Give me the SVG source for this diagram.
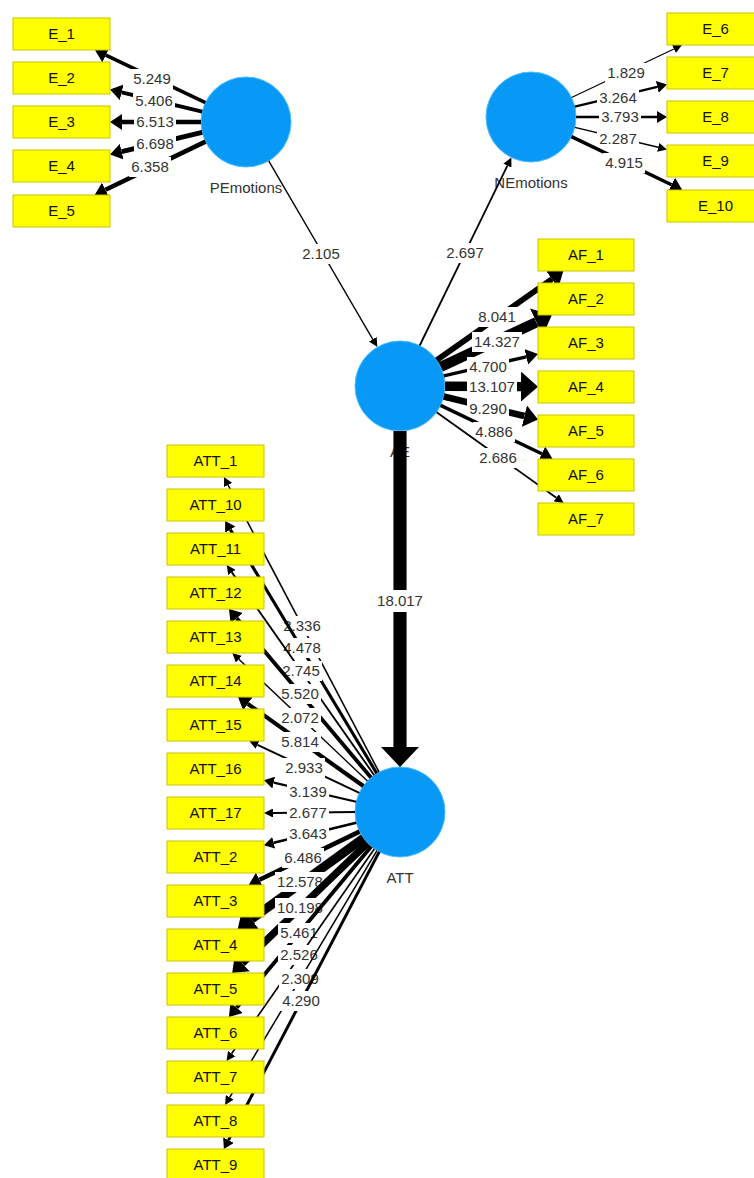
<svg xmlns="http://www.w3.org/2000/svg" width="754" height="1178" viewBox="0 0 754 1178">
  <defs>
    <style>
      text{font-family:"Liberation Sans",Arial,Helvetica,sans-serif;font-size:15px;text-anchor:middle}
      .lv circle{fill:#0898f6;stroke:#4abdff;stroke-width:1}
      .lv text{fill:#333}
      .ind rect{fill:#ffff00;stroke:#c9c400;stroke-width:1}
      .ind text{fill:#111}
      .e{stroke:#000;fill:none}
      .lb{fill:#fff}
      .lt{fill:#333}
      .a1{marker-end:url(#a1)}
      .a2{marker-end:url(#a2)}
      .a3{marker-end:url(#a3)}
      .a4{marker-end:url(#a4)}
      .a5{marker-end:url(#a5)}
      .a6{marker-end:url(#a6)}
    </style>
    <!-- arrowheads, sized by path-weight class; refX at the base so the line ends where the head starts -->
    <marker id="a1" markerUnits="userSpaceOnUse" markerWidth="9" markerHeight="9" viewBox="0 0 9 9" refX="0" refY="4.5" orient="auto"><path d="M0,0L9,4.5L0,9Z"/></marker>
    <marker id="a2" markerUnits="userSpaceOnUse" markerWidth="10" markerHeight="12" viewBox="0 0 10 12" refX="0" refY="6" orient="auto"><path d="M0,0L10,6L0,12Z"/></marker>
    <marker id="a3" markerUnits="userSpaceOnUse" markerWidth="12" markerHeight="16" viewBox="0 0 12 16" refX="0" refY="8" orient="auto"><path d="M0,0L12,8L0,16Z"/></marker>
    <marker id="a4" markerUnits="userSpaceOnUse" markerWidth="14" markerHeight="22" viewBox="0 0 14 22" refX="0" refY="11" orient="auto"><path d="M0,0L14,11L0,22Z"/></marker>
    <marker id="a5" markerUnits="userSpaceOnUse" markerWidth="17" markerHeight="30" viewBox="0 0 17 30" refX="0" refY="15" orient="auto"><path d="M0,0L17,15L0,30Z"/></marker>
    <marker id="a6" markerUnits="userSpaceOnUse" markerWidth="20" markerHeight="38" viewBox="0 0 20 38" refX="0" refY="19" orient="auto"><path d="M0,0L20,19L0,38Z"/></marker>
  </defs>

  <rect width="754" height="1178" fill="#fff"/>

  <!-- latent variables -->
  <g id="PEmotions" class="lv"><circle cx="246" cy="122" r="45"/><text x="246" y="193">PEmotions</text></g>
  <g id="NEmotions" class="lv"><circle cx="531" cy="117" r="45"/><text x="531" y="188">NEmotions</text></g>
  <g id="AE" class="lv"><circle cx="400" cy="386" r="45"/><text x="400" y="457">AE</text></g>
  <g id="ATT" class="lv"><circle cx="400" cy="812" r="45"/><text x="400" y="883">ATT</text></g>

  <!-- paths with t-values -->
  <g id="connectors">
    <g id="c-PE-E1"><line class="e a3" x1="205.4" y1="102.6" x2="105.8" y2="55.2" stroke-width="3.68"/><rect class="lb" x="131" y="69" width="42" height="20"/><text class="lt" x="152" y="84">5.249</text></g>
    <g id="c-PE-E2"><line class="e a3" x1="202.2" y1="111.6" x2="121.7" y2="92.4" stroke-width="3.8"/><rect class="lb" x="133" y="91" width="42" height="20"/><text class="lt" x="154" y="106">5.406</text></g>
    <g id="c-PE-E3"><line class="e a3" x1="201" y1="122" x2="122" y2="122" stroke-width="4.62"/><rect class="lb" x="134" y="112" width="42" height="20"/><text class="lt" x="155" y="127">6.513</text></g>
    <g id="c-PE-E4"><line class="e a3" x1="202.2" y1="132.4" x2="121.7" y2="151.6" stroke-width="4.76"/><rect class="lb" x="134" y="134" width="42" height="20"/><text class="lt" x="155" y="149">6.698</text></g>
    <g id="c-PE-E5"><line class="e a3" x1="205.5" y1="141.6" x2="105.5" y2="189.8" stroke-width="4.5"/><rect class="lb" x="129" y="157" width="42" height="20"/><text class="lt" x="150" y="172">6.358</text></g>

    <g id="c-NE-E6"><line class="e a1" x1="571.6" y1="97.6" x2="673.9" y2="48.9" stroke-width="1.15"/><rect class="lb" x="605" y="63" width="42" height="20"/><text class="lt" x="626" y="78">1.829</text></g>
    <g id="c-NE-E7"><line class="e a2" x1="574.8" y1="106.6" x2="657.3" y2="86.9" stroke-width="2.22"/><rect class="lb" x="597" y="88" width="42" height="20"/><text class="lt" x="618" y="103">3.264</text></g>
    <g id="c-NE-E8"><line class="e a2" x1="576" y1="117" x2="657" y2="117" stroke-width="2.61"/><rect class="lb" x="599" y="107" width="42" height="20"/><text class="lt" x="620" y="122">3.793</text></g>
    <g id="c-NE-E9"><line class="e a1" x1="574.8" y1="127.4" x2="658.2" y2="147.3" stroke-width="1.49"/><rect class="lb" x="597" y="129" width="42" height="20"/><text class="lt" x="618" y="144">2.287</text></g>
    <g id="c-NE-E10"><line class="e a3" x1="571.5" y1="136.6" x2="671.5" y2="184.8" stroke-width="3.44"/><rect class="lb" x="603" y="153" width="42" height="20"/><text class="lt" x="624" y="168">4.915</text></g>

    <g id="c-PE-AE"><line class="e a1" x1="268.7" y1="160.9" x2="372.8" y2="339.3" stroke-width="1.36"/><rect class="lb" x="300" y="244" width="42" height="20"/><text class="lt" x="321" y="259">2.105</text></g>
    <g id="c-AE-NE"><line class="e a1" x1="419.7" y1="345.5" x2="507.4" y2="165.6" stroke-width="1.8"/><rect class="lb" x="444" y="243" width="42" height="20"/><text class="lt" x="465" y="258">2.697</text></g>

    <g id="c-AE-AF1"><line class="e a4" x1="436.8" y1="360.1" x2="551.9" y2="279.1" stroke-width="5.75"/><rect class="lb" x="476" y="307" width="42" height="20"/><text class="lt" x="497" y="322">8.041</text></g>
    <g id="c-AE-AF2"><line class="e a5" x1="440.8" y1="366.9" x2="536.4" y2="322.2" stroke-width="10.4"/><rect class="lb" x="472" y="332" width="50" height="20"/><text class="lt" x="497" y="347">14.327</text></g>
    <g id="c-AE-AF3"><line class="e a3" x1="443.8" y1="375.9" x2="526.3" y2="356.8" stroke-width="3.28"/><rect class="lb" x="467" y="357" width="42" height="20"/><text class="lt" x="488" y="372">4.700</text></g>
    <g id="c-AE-AF4"><line class="e a5" x1="445" y1="386.2" x2="521" y2="386.6" stroke-width="9.5"/><rect class="lb" x="467" y="377" width="50" height="20"/><text class="lt" x="492" y="392">13.107</text></g>
    <g id="c-AE-AF5"><line class="e a4" x1="443.7" y1="396.6" x2="524.4" y2="416.1" stroke-width="6.67"/><rect class="lb" x="467" y="399" width="42" height="20"/><text class="lt" x="488" y="414">9.290</text></g>
    <g id="c-AE-AF6"><line class="e a3" x1="440.6" y1="405.4" x2="541.8" y2="453.8" stroke-width="3.42"/><rect class="lb" x="473" y="422" width="42" height="20"/><text class="lt" x="494" y="437">4.886</text></g>
    <g id="c-AE-AF7"><line class="e a1" x1="436.6" y1="412.2" x2="556.3" y2="497.8" stroke-width="1.79"/><rect class="lb" x="477" y="448" width="42" height="20"/><text class="lt" x="498" y="463">2.686</text></g>

    <g id="c-AE-ATT"><line class="e a6" x1="400" y1="431" x2="400" y2="747" stroke-width="13.13"/><rect class="lb" x="375" y="590" width="50" height="22"/><text class="lt" x="400" y="606">18.017</text></g>

    <g id="c-ATT-1"><line class="e a1" x1="379.1" y1="772.2" x2="228.1" y2="485" stroke-width="1.53"/><rect class="lb" x="281" y="616" width="42" height="20"/><text class="lt" x="302" y="631">2.336</text></g>
    <g id="c-ATT-10"><line class="e a2" x1="376.8" y1="773.4" x2="230.3" y2="529.6" stroke-width="3.11"/><rect class="lb" x="281" y="638" width="42" height="20"/><text class="lt" x="302" y="653">4.478</text></g>
    <g id="c-ATT-11"><line class="e a1" x1="374.2" y1="775.2" x2="231.9" y2="572.4" stroke-width="1.83"/><rect class="lb" x="280" y="661" width="42" height="20"/><text class="lt" x="301" y="676">2.745</text></g>
    <g id="c-ATT-12"><line class="e a3" x1="371" y1="777.6" x2="236.7" y2="618.2" stroke-width="3.88"/><rect class="lb" x="279" y="684" width="42" height="20"/><text class="lt" x="300" y="699">5.520</text></g>
    <g id="c-ATT-13"><line class="e a1" x1="367.4" y1="781" x2="238.9" y2="659.2" stroke-width="1.33"/><rect class="lb" x="279" y="708" width="42" height="20"/><text class="lt" x="300" y="723">2.072</text></g>
    <g id="c-ATT-14"><line class="e a3" x1="363.3" y1="786" x2="247.8" y2="703.9" stroke-width="4.1"/><rect class="lb" x="279" y="732" width="42" height="20"/><text class="lt" x="300" y="747">5.814</text></g>
    <g id="c-ATT-15"><line class="e a1" x1="359.3" y1="792.8" x2="257.5" y2="744.8" stroke-width="1.97"/><rect class="lb" x="283" y="758" width="42" height="20"/><text class="lt" x="304" y="773">2.933</text></g>
    <g id="c-ATT-16"><line class="e a2" x1="356.2" y1="801.8" x2="273.7" y2="782.6" stroke-width="2.12"/><rect class="lb" x="287" y="782" width="42" height="20"/><text class="lt" x="308" y="797">3.139</text></g>
    <g id="c-ATT-17"><line class="e a1" x1="355" y1="812" x2="273" y2="813" stroke-width="1.78"/><rect class="lb" x="287" y="803" width="42" height="20"/><text class="lt" x="308" y="818">2.677</text></g>
    <g id="c-ATT-2"><line class="e a2" x1="356.3" y1="822.7" x2="273.7" y2="842.8" stroke-width="2.5"/><rect class="lb" x="287" y="824" width="42" height="20"/><text class="lt" x="308" y="839">3.643</text></g>
    <g id="c-ATT-3"><line class="e a3" x1="359.5" y1="831.6" x2="259.5" y2="879.8" stroke-width="4.6"/><rect class="lb" x="282" y="848" width="42" height="20"/><text class="lt" x="303" y="863">6.486</text></g>
    <g id="c-ATT-4"><line class="e a5" x1="363.5" y1="838.3" x2="251.5" y2="919.1" stroke-width="9.11"/><rect class="lb" x="275" y="872" width="50" height="20"/><text class="lt" x="300" y="887">12.578</text></g>
    <g id="c-ATT-5"><line class="e a4" x1="367.5" y1="843.1" x2="242.3" y2="963.3" stroke-width="7.35"/><rect class="lb" x="275" y="898" width="50" height="20"/><text class="lt" x="300" y="913">10.198</text></g>
    <g id="c-ATT-6"><line class="e a3" x1="371.2" y1="846.5" x2="236.6" y2="1007.8" stroke-width="3.84"/><rect class="lb" x="278" y="923" width="42" height="20"/><text class="lt" x="299" y="938">5.461</text></g>
    <g id="c-ATT-7"><line class="e a1" x1="374.3" y1="848.9" x2="231.7" y2="1053.6" stroke-width="1.67"/><rect class="lb" x="278" y="945" width="42" height="20"/><text class="lt" x="299" y="960">2.526</text></g>
    <g id="c-ATT-8"><line class="e a1" x1="376.9" y1="850.6" x2="229.7" y2="1097.3" stroke-width="1.51"/><rect class="lb" x="279" y="969" width="42" height="20"/><text class="lt" x="300" y="984">2.309</text></g>
    <g id="c-ATT-9"><line class="e a2" x1="379.2" y1="851.9" x2="228.5" y2="1140.1" stroke-width="2.97"/><rect class="lb" x="280" y="991" width="42" height="20"/><text class="lt" x="301" y="1006">4.290</text></g>
  </g>

  <!-- indicators -->
  <g id="E_1" class="ind"><rect x="13" y="18" width="97" height="32"/><text x="61.5" y="39">E_1</text></g>
  <g id="E_2" class="ind"><rect x="13" y="62" width="97" height="32"/><text x="61.5" y="83">E_2</text></g>
  <g id="E_3" class="ind"><rect x="13" y="106" width="97" height="32"/><text x="61.5" y="127">E_3</text></g>
  <g id="E_4" class="ind"><rect x="13" y="150" width="97" height="32"/><text x="61.5" y="171">E_4</text></g>
  <g id="E_5" class="ind"><rect x="13" y="195" width="97" height="32"/><text x="61.5" y="216">E_5</text></g>

  <g id="E_6" class="ind"><rect x="667" y="13" width="97" height="32"/><text x="715.5" y="34">E_6</text></g>
  <g id="E_7" class="ind"><rect x="667" y="57" width="97" height="32"/><text x="715.5" y="78">E_7</text></g>
  <g id="E_8" class="ind"><rect x="667" y="101" width="97" height="32"/><text x="715.5" y="122">E_8</text></g>
  <g id="E_9" class="ind"><rect x="667" y="145" width="97" height="32"/><text x="715.5" y="166">E_9</text></g>
  <g id="E_10" class="ind"><rect x="667" y="190" width="97" height="32"/><text x="715.5" y="211">E_10</text></g>

  <g id="AF_1" class="ind"><rect x="538" y="239" width="96" height="32"/><text x="586" y="260">AF_1</text></g>
  <g id="AF_2" class="ind"><rect x="538" y="283" width="96" height="32"/><text x="586" y="304">AF_2</text></g>
  <g id="AF_3" class="ind"><rect x="538" y="327" width="96" height="32"/><text x="586" y="348">AF_3</text></g>
  <g id="AF_4" class="ind"><rect x="538" y="371" width="96" height="32"/><text x="586" y="392">AF_4</text></g>
  <g id="AF_5" class="ind"><rect x="538" y="415" width="96" height="32"/><text x="586" y="436">AF_5</text></g>
  <g id="AF_6" class="ind"><rect x="538" y="459" width="96" height="32"/><text x="586" y="480">AF_6</text></g>
  <g id="AF_7" class="ind"><rect x="538" y="503" width="96" height="32"/><text x="586" y="524">AF_7</text></g>

  <g id="ATT_1" class="ind"><rect x="167" y="445" width="97" height="32"/><text x="215.5" y="466">ATT_1</text></g>
  <g id="ATT_10" class="ind"><rect x="167" y="489" width="97" height="32"/><text x="215.5" y="510">ATT_10</text></g>
  <g id="ATT_11" class="ind"><rect x="167" y="533" width="97" height="32"/><text x="215.5" y="554">ATT_11</text></g>
  <g id="ATT_12" class="ind"><rect x="167" y="577" width="97" height="32"/><text x="215.5" y="598">ATT_12</text></g>
  <g id="ATT_13" class="ind"><rect x="167" y="621" width="97" height="32"/><text x="215.5" y="642">ATT_13</text></g>
  <g id="ATT_14" class="ind"><rect x="167" y="665" width="97" height="32"/><text x="215.5" y="686">ATT_14</text></g>
  <g id="ATT_15" class="ind"><rect x="167" y="709" width="97" height="32"/><text x="215.5" y="730">ATT_15</text></g>
  <g id="ATT_16" class="ind"><rect x="167" y="753" width="97" height="32"/><text x="215.5" y="774">ATT_16</text></g>
  <g id="ATT_17" class="ind"><rect x="167" y="797" width="97" height="32"/><text x="215.5" y="818">ATT_17</text></g>
  <g id="ATT_2" class="ind"><rect x="167" y="841" width="97" height="32"/><text x="215.5" y="862">ATT_2</text></g>
  <g id="ATT_3" class="ind"><rect x="167" y="885" width="97" height="32"/><text x="215.5" y="906">ATT_3</text></g>
  <g id="ATT_4" class="ind"><rect x="167" y="929" width="97" height="32"/><text x="215.5" y="950">ATT_4</text></g>
  <g id="ATT_5" class="ind"><rect x="167" y="973" width="97" height="32"/><text x="215.5" y="994">ATT_5</text></g>
  <g id="ATT_6" class="ind"><rect x="167" y="1017" width="97" height="32"/><text x="215.5" y="1038">ATT_6</text></g>
  <g id="ATT_7" class="ind"><rect x="167" y="1061" width="97" height="32"/><text x="215.5" y="1082">ATT_7</text></g>
  <g id="ATT_8" class="ind"><rect x="167" y="1105" width="97" height="32"/><text x="215.5" y="1126">ATT_8</text></g>
  <g id="ATT_9" class="ind"><rect x="167" y="1149" width="97" height="32"/><text x="215.5" y="1170">ATT_9</text></g>
</svg>
